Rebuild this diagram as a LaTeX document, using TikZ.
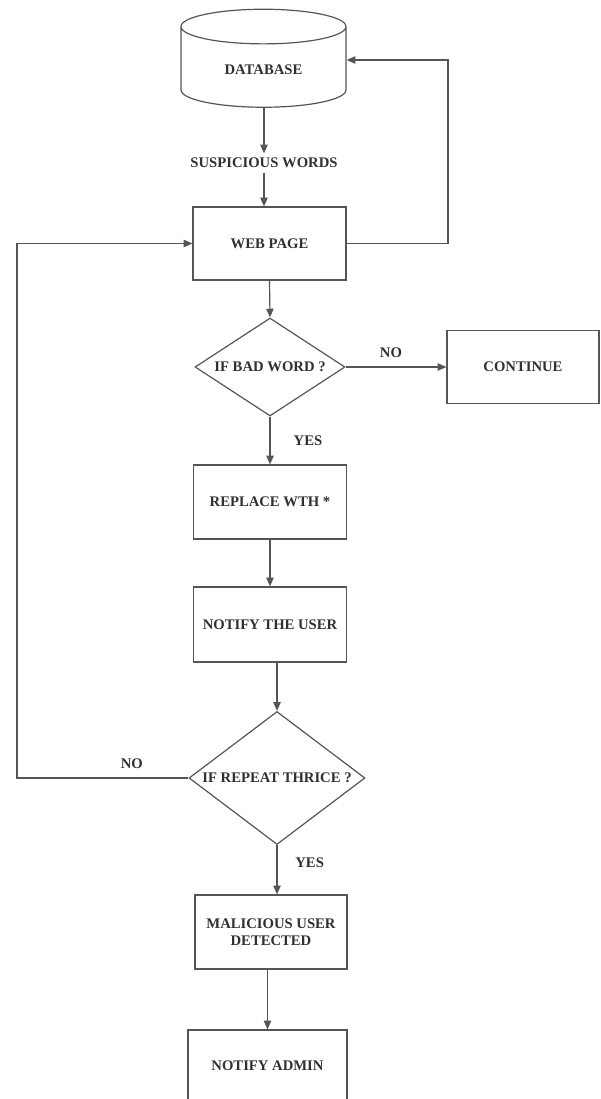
\documentclass[tikz,border=0pt]{standalone}
\usepackage{fontspec}
\setmainfont{Liberation Serif}
\usetikzlibrary{shapes.geometric, arrows.meta}

\definecolor{linegray}{HTML}{555555}
\definecolor{textgray}{HTML}{303030}

\begin{document}
\begin{tikzpicture}[x=0.75pt, y=-0.75pt,
		every node/.style={font=\fontsize{11}{12.5}\selectfont\bfseries, text=textgray},
		box/.style={draw=linegray, line width=0.9pt, rectangle, minimum width=115pt, minimum height=55.5pt, align=center},
		decision/.style={draw=linegray, line width=0.9pt, diamond, inner sep=0pt},
		arr/.style={draw=linegray, line width=0.9pt, -{Triangle[length=6.5pt, width=5.5pt]}}]
		\useasboundingbox (0,0) rectangle (600,1099);

		% Draw the database and the words taken from it
		\node[draw=linegray, line width=0.9pt, cylinder, shape border rotate=90, aspect=0.4,
			minimum width=123.75pt, minimum height=73.5pt] (db) at (263.5,70) {DATABASE};
		\node (words) at (264,163) {SUSPICIOUS WORDS};

		% Draw the main column
		\node[box, minimum width=114.75pt, minimum height=54.75pt] (web) at (269.5,243.5) {WEB PAGE};
		\node[decision, minimum width=112.5pt, minimum height=73.5pt, aspect=1.53] (ifbad) at (270,367) {IF BAD WORD ?};
		\node[box, minimum width=114pt, minimum height=54.75pt] (cont) at (523,367) {CONTINUE};
		\node[box] (repl) at (270,502) {REPLACE WTH *};
		\node[box, minimum height=56.25pt] (notu) at (270,624.5) {NOTIFY THE USER};
		\node[decision, minimum width=132pt, minimum height=99.75pt, aspect=1.33] (ifrep) at (277,778) {IF REPEAT THRICE ?};
		\node[box, minimum width=114pt] (mal) at (271,932) {MALICIOUS USER\\DETECTED};
		\node[box, minimum width=119.25pt, minimum height=54pt] (nota) at (267.5,1066) {NOTIFY ADMIN};

		% Turning points of the two loops
		\coordinate (rtop) at (448,60);
		\coordinate (lbot) at (17,778);

		% Draw the connectors
		\draw[arr] (db.south -| words.north) -- (words.north);
		\draw[arr] (words.south) -- (web.north -| words.south);
		\draw[arr] (web.east) -| (rtop) -- (rtop -| db.east);
		\draw[arr] (web.south) -- (ifbad.north);
		\draw[arr] (ifbad.east) -- node[above=3pt, pos=0.45] {NO} (cont.west);
		\draw[arr] (ifbad.south) -- node[right=14pt, pos=0.5] {YES} (repl.north);
		\draw[arr] (repl.south) -- (notu.north);
		\draw[arr] (ifrep.north |- notu.south) -- (ifrep.north);
		\draw[arr] (ifrep.west) -- node[above=3pt, pos=0.33] {NO} (lbot) |- (web.west);
		\draw[arr] (ifrep.south) -- node[right=10pt, pos=0.35] {YES} (ifrep.south |- mal.north);
		\draw[arr] (nota.north |- mal.south) -- (nota.north);

	\end{tikzpicture}
\end{document}
